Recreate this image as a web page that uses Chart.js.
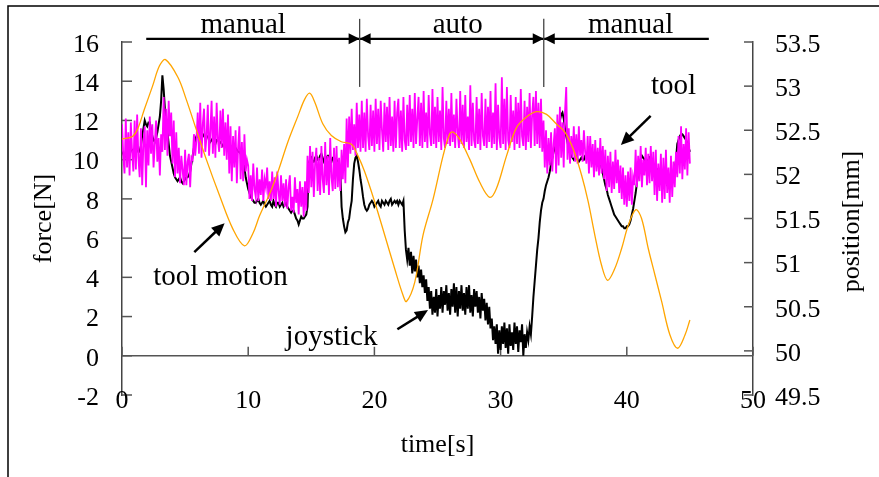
<!DOCTYPE html>
<html>
<head>
<meta charset="utf-8">
<title>force and tool position</title>
<script src="https://cdn.jsdelivr.net/npm/chart.js@4.4.0/dist/chart.umd.min.js"></script>
<style>
  html, body { margin: 0; padding: 0; background: #fff; }
  #wrap { width: 879px; height: 477px; position: relative; }
</style>
</head>
<body>
<div id="wrap"><canvas id="force-chart"></canvas></div>
<script>
// force signals, sampled every 0.1 s from t = 0 (one row per second)
const sampleStep = 0.1;

const toolForce = [
  11.8, 10.2, 9.3, 12.1, 9.6, 11.4, 9.2, 11.9, 10.4, 9.4,
  12.0, 9.5, 12.3, 10.1, 9.1, 11.6, 8.7, 10.9, 11.7, 8.6,
  11.5, 9.7, 12.2, 10.3, 11.8, 9.6, 10.8, 12.0, 9.9, 11.1,
  9.2, 11.3, 10.4, 13.2, 10.5, 12.6, 10.2, 13.0, 11.2, 12.4,
  9.8, 12.0, 9.1, 11.4, 9.3, 10.6, 8.8, 10.2, 9.5, 8.7,
  10.5, 8.7, 9.9, 10.3, 8.6, 10.1, 10.0, 11.3, 10.2, 11.0,
  12.4, 10.3, 12.9, 10.1, 11.8, 12.6, 10.4, 11.2, 12.8, 10.2,
  11.4, 13.0, 10.3, 12.2, 10.1, 12.9, 11.0, 10.4, 12.5, 10.6,
  12.6, 10.2, 11.9, 10.0, 12.3, 9.3, 11.7, 8.9, 11.2, 9.6,
  11.5, 8.8, 10.6, 11.7, 9.0, 10.9, 8.9, 11.3, 9.4, 10.0,
  9.7, 8.0, 9.2, 7.9, 9.8, 8.5, 8.1, 9.6, 7.9, 9.0,
  8.2, 9.5, 7.9, 9.0, 8.6, 9.6, 8.0, 8.9, 7.9, 9.4,
  8.0, 9.1, 7.6, 9.4, 8.4, 7.7, 9.2, 7.9, 8.8, 7.6,
  9.0, 7.5, 8.6, 9.2, 7.4, 8.1, 7.3, 9.1, 7.8, 8.5,
  7.2, 8.9, 7.6, 8.6, 7.1, 8.9, 7.4, 10.2, 8.3, 10.7,
  8.6, 10.4, 8.1, 9.8, 10.6, 8.4, 10.1, 8.2, 10.7, 9.0,
  8.3, 10.9, 8.7, 10.2, 8.2, 11.1, 9.1, 8.4, 10.6, 8.5,
  10.7, 8.6, 10.1, 8.4, 10.5, 9.0, 10.8, 8.8, 12.1, 9.6,
  12.2, 10.3, 12.6, 10.5, 11.8, 10.2, 12.9, 10.6, 12.3, 10.4,
  13.0, 10.6, 12.4, 10.4, 13.1, 11.2, 10.5, 12.8, 10.7, 12.5,
  10.4, 13.1, 10.8, 12.6, 10.5, 13.0, 11.5, 10.4, 12.9, 10.9,
  12.7, 10.5, 13.2, 10.7, 12.2, 10.4, 13.0, 10.6, 12.4, 13.1,
  10.6, 12.5, 10.4, 13.2, 11.0, 10.5, 12.8, 10.7, 13.3, 10.9,
  12.6, 10.6, 13.4, 10.8, 12.1, 13.2, 10.7, 12.9, 10.6, 13.5,
  10.9, 12.4, 10.6, 13.3, 11.3, 10.7, 13.6, 10.8, 12.7, 10.6,
  13.2, 10.9, 12.5, 10.5, 13.7, 11.1, 10.6, 13.0, 10.8, 12.6,
  10.7, 13.4, 10.9, 12.3, 10.6, 13.1, 11.4, 10.6, 13.5, 10.8,
  12.8, 10.6, 13.3, 10.9, 12.2, 10.5, 13.8, 10.7, 12.9, 11.0,
  10.6, 13.2, 10.8, 12.6, 10.5, 13.4, 11.2, 10.7, 13.1, 10.6,
  12.7, 10.9, 13.5, 10.6, 12.4, 10.8, 13.9, 10.5, 12.8, 11.1,
  10.6, 14.2, 10.8, 13.1, 10.5, 13.7, 11.0, 10.6, 13.3, 10.9,
  12.5, 10.5, 13.2, 10.8, 12.9, 10.6, 13.6, 11.2, 10.7, 13.0,
  10.5, 12.7, 10.9, 13.4, 10.6, 12.3, 13.2, 10.7, 13.5, 10.8,
  12.9, 10.6, 13.1, 10.4, 12.0, 9.6, 11.5, 9.3, 11.1, 9.7,
  11.4, 9.4, 10.8, 11.6, 9.3, 12.3, 9.7, 12.7, 10.1, 11.9,
  9.6, 12.4, 13.7, 10.0, 11.6, 9.8, 11.2, 10.1, 11.7, 9.9,
  11.3, 9.8, 11.7, 10.2, 11.0, 9.9, 11.5, 10.4, 9.8, 11.2,
  9.3, 11.2, 9.6, 10.8, 9.1, 11.0, 9.4, 10.6, 9.2, 11.1,
  9.3, 10.7, 9.0, 10.5, 8.4, 10.2, 8.6, 10.4, 8.3, 9.9,
  8.5, 10.5, 8.8, 10.0, 8.3, 9.7, 8.0, 9.6, 7.7, 9.2,
  7.6, 9.4, 7.9, 9.6, 7.7, 9.1, 8.7, 10.5, 8.6, 10.2,
  8.9, 10.7, 8.6, 10.0, 9.2, 10.6, 8.7, 10.3, 8.8, 10.7,
  8.9, 10.4, 8.2, 10.5, 7.9, 9.8, 8.4, 10.3, 7.8, 10.1,
  8.0, 10.5, 8.3, 9.6, 7.8, 10.2, 8.1, 9.9, 8.6, 10.4,
  9.1, 11.2, 9.3, 11.7, 9.0, 10.8, 9.5, 11.6, 9.2, 11.4,
  9.8
];

const joystickForce = [
  10.4, 10.3, 10.1, 10.4, 10.6, 10.3, 10.2, 10.5, 10.5, 10.4,
  10.3, 10.5, 10.6, 10.4, 10.4, 10.7, 11.2, 11.6, 12.0, 11.8,
  11.7, 11.9, 11.9, 11.5, 11.2, 11.0, 10.9, 11.1, 11.4, 11.8,
  12.2, 13.0, 14.3, 13.6, 12.6, 12.0, 11.4, 10.8, 10.2, 9.9,
  9.6, 9.3, 9.1, 9.0, 8.9, 9.0, 9.1, 8.9, 8.8, 8.9,
  9.0, 9.1, 9.1, 9.2, 9.4, 9.8, 10.2, 10.6, 11.0, 11.2,
  11.2, 11.1, 11.0, 11.2, 11.3, 11.2, 11.1, 11.2, 11.2, 11.0,
  10.9, 11.0, 11.1, 10.9, 10.8, 11.0, 11.0, 10.9, 10.9, 10.8,
  10.7, 10.8, 10.8, 10.7, 10.6, 10.7, 10.7, 10.6, 10.5, 10.6,
  10.6, 10.5, 10.4, 10.4, 10.3, 10.2, 10.0, 9.6, 9.1, 8.8,
  8.5, 8.3, 8.1, 8.0, 7.9, 7.8, 7.8, 7.9, 8.0, 7.8,
  7.7, 7.8, 7.9, 7.7, 7.6, 7.7, 7.8, 7.9, 7.7, 7.6,
  7.9, 7.7, 7.6, 7.8, 7.8, 7.6, 7.7, 7.8, 7.6, 7.7,
  7.8, 7.6, 7.5, 7.4, 7.3, 7.4, 7.4, 7.2, 7.0, 6.9,
  6.7, 6.9, 7.1, 7.0, 7.0, 7.1, 7.2, 7.6, 9.8, 10.0,
  10.1, 9.9, 9.9, 10.1, 10.2, 10.0, 10.0, 10.2, 10.3, 10.1,
  9.9, 10.0, 10.1, 10.2, 10.2, 10.0, 9.9, 10.1, 10.1, 10.0,
  10.0, 9.9, 9.8, 9.4, 7.6, 7.0, 6.6, 6.3, 6.4, 6.8,
  7.0, 7.5, 7.9, 9.0, 9.8, 10.1, 10.2, 9.9, 9.5, 9.0,
  8.6, 8.1, 7.7, 7.5, 7.4, 7.5, 7.7, 7.8, 7.9, 7.8,
  7.6, 7.7, 7.8, 7.9, 7.7, 7.6, 7.9, 7.8, 7.7, 7.9,
  7.8, 7.7, 7.9, 8.0, 7.7, 7.8, 7.9, 7.8, 7.9, 7.7,
  7.9, 7.8, 7.7, 7.9, 6.4, 5.4, 4.9, 5.5, 4.6, 5.3,
  4.2, 5.1, 4.3, 4.9, 4.0, 4.6, 3.7, 4.4, 3.5, 4.1,
  3.2, 3.9, 2.8, 3.5, 2.4, 3.3, 2.1, 3.0, 2.2, 3.4,
  2.0, 3.1, 2.4, 3.5, 2.2, 3.3, 2.6, 3.6, 2.3, 3.2,
  2.1, 3.4, 2.5, 3.7, 2.2, 3.5, 2.0, 3.3, 2.4, 3.6,
  2.3, 3.2, 2.1, 3.5, 2.4, 3.6, 2.2, 3.1, 2.0, 3.4,
  2.5, 3.3, 2.2, 3.0, 1.9, 3.2, 2.3, 2.9, 1.8, 2.7,
  1.6, 2.5, 1.4, 1.9, 0.8, 1.5, 0.6, 1.6, 0.1, 1.3,
  0.3, 1.5, 0.6, 1.7, 0.4, 1.4, 0.1, 1.6, 0.5, 1.2,
  0.3, 1.7, 0.6, 1.5, 0.2, 1.3, 0.7, 1.6, 0.0, 1.1,
  0.4, 1.2, 0.8, 1.5, 1.1, 2.0, 3.0, 3.8, 4.6, 5.4,
  6.0, 6.8, 7.4, 7.8, 8.0, 8.4, 8.7, 8.9, 9.1, 9.4,
  9.8, 10.1, 10.4, 10.6, 10.8, 11.2, 11.6, 12.0, 12.3, 12.4,
  12.1, 11.6, 11.2, 10.9, 10.6, 10.4, 10.2, 10.1, 10.0, 10.1,
  10.2, 10.0, 9.9, 10.0, 10.1, 10.0, 10.0, 10.2, 10.2, 10.1,
  10.0, 10.1, 10.1, 10.2, 10.2, 10.1, 10.0, 10.1, 10.1, 10.0,
  9.6, 9.3, 9.0, 8.7, 8.5, 8.2, 8.0, 7.8, 7.6, 7.4,
  7.2, 7.1, 7.0, 6.9, 6.8, 6.7, 6.6, 6.6, 6.5, 6.5,
  6.6, 6.6, 6.7, 6.9, 7.2, 7.5, 7.9, 8.3, 8.8, 9.3,
  9.8, 10.0, 10.2, 10.1, 10.0, 9.9, 9.9, 10.0, 10.1, 10.0,
  9.8, 9.8, 9.7, 9.6, 9.5, 9.5, 9.4, 9.3, 9.2, 9.1,
  9.0, 8.9, 8.7, 8.6, 8.8, 8.9, 9.1, 9.3, 9.5, 10.0,
  10.8, 11.0, 11.2, 11.3, 11.3, 11.2, 11.1, 11.0, 10.8, 10.6,
  10.4
];

// tool position [mm] (right axis)
const motionTime = [
  0, 0.83, 1.23, 1.78, 2.42, 2.97, 3.45, 4.43, 5.09, 5.88,
  6.68, 7.73, 8.79, 9.71, 10.37, 10.9, 11.7, 12.36, 13.15, 13.94,
  14.47, 14.87, 15.27, 15.92, 16.59, 17.38, 18.18, 18.7, 19.23, 20.02,
  20.82, 21.61, 22.27, 22.54, 23.2, 23.85, 24.65, 25.44, 25.97, 26.23,
  26.76, 27.56, 28.35, 29.14, 29.67, 30.47, 31.26, 32.05, 32.85, 33.64,
  34.43, 35.09, 35.75, 36.42, 36.94, 37.47, 38.0, 38.48, 39.04, 39.59,
  40.11, 40.72, 41.17, 41.7, 42.23, 42.76, 43.42, 44.03, 44.61, 45.0
];
const motionPos = [
  52.40, 52.43, 52.51, 52.74, 53.00, 53.23, 53.30, 53.10, 52.85, 52.51,
  52.17, 51.76, 51.38, 51.19, 51.33, 51.53, 51.78, 52.03, 52.37, 52.66,
  52.85, 52.92, 52.82, 52.57, 52.44, 52.37, 52.34, 52.21, 52.03, 51.69,
  51.31, 50.93, 50.63, 50.56, 50.78, 51.31, 51.72, 52.21, 52.46, 52.48,
  52.40, 52.17, 51.91, 51.74, 51.84, 52.21, 52.53, 52.65, 52.71, 52.68,
  52.57, 52.48, 52.29, 51.99, 51.69, 51.31, 50.97, 50.80, 50.93, 51.16,
  51.42, 51.60, 51.50, 51.16, 50.86, 50.56, 50.18, 50.03, 50.18, 50.35
];

// operating modes along the top
const modeNames = ['manual', 'auto', 'manual'];
const modeLabelTime = [9.6, 26.6, 40.3];
const modeSwitchTime = [18.83, 33.42];
const modeSpan = [1.92, 46.5];

// callout labels: text position and arrow, in data units (s, N)
const callouts = [
  { text: 'tool', at: [43.7, 13.35], from: [41.89, 12.23], to: [39.53, 10.75] },
  { text: 'tool motion', at: [7.81, 3.6], from: [5.73, 5.29], to: [8.13, 6.76] },
  { text: 'joystick', at: [16.6, 0.55], from: [21.82, 1.35], to: [24.25, 2.33] }
];

const serif = "'Liberation Serif', 'Times New Roman', serif";
Chart.defaults.font.family = serif;
Chart.defaults.color = '#000';

function arrowHead(ctx, x1, y1, x2, y2, len, half) {
  const a = Math.atan2(y2 - y1, x2 - x1);
  ctx.beginPath();
  ctx.moveTo(x2, y2);
  ctx.lineTo(x2 - len * Math.cos(a) + half * Math.sin(a), y2 - len * Math.sin(a) - half * Math.cos(a));
  ctx.lineTo(x2 - len * Math.cos(a) - half * Math.sin(a), y2 - len * Math.sin(a) + half * Math.cos(a));
  ctx.closePath();
  ctx.fill();
}

function seg(ctx, x1, y1, x2, y2) {
  ctx.beginPath();
  ctx.moveTo(x1, y1);
  ctx.lineTo(x2, y2);
  ctx.stroke();
}

const decorations = {
  id: 'decorations',
  beforeDraw(chart) {
    const ctx = chart.ctx;
    ctx.save();
    ctx.strokeStyle = '#000';
    ctx.lineWidth = 1.5;
    ctx.strokeRect(8, 6, chart.width, chart.height);
    ctx.restore();
  },
  beforeDatasetsDraw(chart) {
    const { ctx, chartArea: a, scales: { x, y, y1 } } = chart;
    ctx.save();
    ctx.strokeStyle = '#555';
    ctx.lineWidth = 1.5;
    const y0 = y.getPixelForValue(0);
    seg(ctx, a.left, y0, a.right, y0);
    x.ticks.forEach(t => {
      const px = x.getPixelForValue(t.value);
      seg(ctx, px, y0, px, y0 - 9);
    });
    y.ticks.forEach(t => {
      const py = y.getPixelForValue(t.value);
      seg(ctx, a.left, py, a.left + 10, py);
    });
    y1.ticks.forEach(t => {
      const py = y1.getPixelForValue(t.value);
      seg(ctx, a.right - 9, py, a.right, py);
    });
    ctx.restore();
  },
  afterDraw(chart) {
    const { ctx, chartArea: a, scales: { x, y } } = chart;
    ctx.save();
    ctx.fillStyle = '#000';
    ctx.strokeStyle = '#000';

    // x tick labels sit on the bottom edge of the plot
    ctx.font = '26px ' + serif;
    ctx.textAlign = 'center';
    ctx.textBaseline = 'alphabetic';
    x.ticks.forEach(t => {
      ctx.fillText(String(t.value), x.getPixelForValue(t.value), a.bottom + 13);
    });

    // mode bar
    const barY = y.getPixelForValue(16.16);
    ctx.lineWidth = 2.2;
    seg(ctx, x.getPixelForValue(modeSpan[0]), barY, x.getPixelForValue(modeSpan[1]), barY);
    modeSwitchTime.forEach(t => {
      const px = x.getPixelForValue(t);
      arrowHead(ctx, px - 20, barY, px, barY, 11, 5.5);
      arrowHead(ctx, px + 20, barY, px, barY, 11, 5.5);
      ctx.save();
      ctx.strokeStyle = '#444';
      ctx.lineWidth = 1.3;
      seg(ctx, px, y.getPixelForValue(17.18), px, y.getPixelForValue(13.71));
      ctx.restore();
    });

    ctx.font = '29px ' + serif;
    modeNames.forEach((name, i) => {
      ctx.fillText(name, x.getPixelForValue(modeLabelTime[i]), y.getPixelForValue(16.46));
    });

    // callouts
    callouts.forEach(c => {
      ctx.fillText(c.text, x.getPixelForValue(c.at[0]), y.getPixelForValue(c.at[1]));
      const x1 = x.getPixelForValue(c.from[0]), y1p = y.getPixelForValue(c.from[1]);
      const x2 = x.getPixelForValue(c.to[0]), y2p = y.getPixelForValue(c.to[1]);
      const ang = Math.atan2(y2p - y1p, x2 - x1);
      ctx.lineWidth = 2.5;
      seg(ctx, x1, y1p, x2 - 8 * Math.cos(ang), y2p - 8 * Math.sin(ang));
      arrowHead(ctx, x1, y1p, x2, y2p, 13, 6);
    });

    // right axis title, reading bottom to top
    ctx.font = '26px ' + serif;
    ctx.textBaseline = 'middle';
    ctx.translate(852, (a.top + a.bottom) / 2 + 3);
    ctx.rotate(-Math.PI / 2);
    ctx.fillText('position[mm]', 0, 0);
    ctx.restore();
  }
};

const tickFont = { size: 26, family: serif, lineHeight: 1.2 };

new Chart(document.getElementById('force-chart'), {
  type: 'line',
  data: {
    datasets: [{
      label: 'tool motion',
      yAxisID: 'y1',
      data: motionTime.map((t, i) => ({ x: t, y: motionPos[i] })),
      borderColor: '#FFA500',
      borderWidth: 1.3,
      tension: 0.35,
      pointRadius: 0,
      order: 0
    }, {
      label: 'tool',
      yAxisID: 'y',
      data: toolForce.map((v, i) => ({ x: i * sampleStep, y: v })),
      borderColor: '#FF00FF',
      borderWidth: 1.8,
      pointRadius: 0,
      order: 1
    }, {
      label: 'joystick',
      yAxisID: 'y',
      data: joystickForce.map((v, i) => ({ x: i * sampleStep, y: v })),
      borderColor: '#000',
      borderWidth: 2,
      pointRadius: 0,
      order: 2
    }]
  },
  options: {
    responsive: true,
    maintainAspectRatio: false,
    animation: false,
    layout: { padding: { top: 42, left: 0, right: 0, bottom: 0 } },
    plugins: {
      legend: { display: false },
      tooltip: { enabled: false }
    },
    scales: {
      x: {
        type: 'linear',
        min: 0, max: 50,
        grid: { display: false, drawTicks: false },
        border: { display: false },
        ticks: { stepSize: 10, display: false },
        title: { display: true, text: 'time[s]', font: { size: 26, family: serif }, padding: { top: 0, bottom: 16 } },
        afterFit(scale) { scale.height = 82; }
      },
      y: {
        position: 'left',
        min: -2, max: 16,
        grid: { display: false, drawTicks: false },
        border: { display: true, color: '#444', width: 1.5 },
        ticks: { stepSize: 2, font: tickFont, padding: 23, labelOffset: 3 },
        title: { display: true, text: 'force[N]', font: { size: 26, family: serif }, padding: { top: 29, bottom: 0 } },
        afterFit(scale) { scale.width = 122; }
      },
      y1: {
        position: 'right',
        min: 49.5, max: 53.5,
        grid: { display: false, drawTicks: false },
        border: { display: true, color: '#444', width: 1.5 },
        ticks: { stepSize: 0.5, font: tickFont, padding: 22, labelOffset: 3, callback: v => String(v) },
        afterFit(scale) { scale.width = 126; }
      }
    }
  },
  plugins: [decorations]
});
</script>
</body>
</html>
